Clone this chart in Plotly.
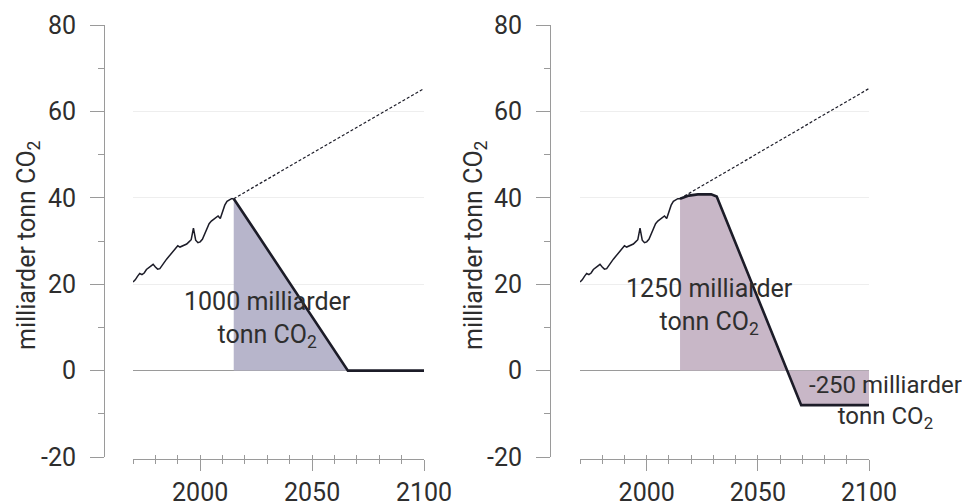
import plotly.graph_objects as go

# ---------------- data ----------------
hist_years = list(range(1970, 2016))
hist_values = [20.5, 21.0, 21.8, 22.5, 22.2, 22.6, 23.4, 23.8, 24.3, 24.6,
               24.0, 23.5, 23.6, 24.4, 25.2, 25.8, 26.4, 27.0, 27.8, 28.4,
               28.9, 28.6, 28.8, 29.0, 29.3, 29.8, 30.3, 33.0, 30.2, 29.6,
               29.8, 30.4, 31.6, 32.8, 34.0, 34.6, 35.0, 35.4, 35.8, 35.2,
               37.0, 38.3, 39.2, 39.6, 39.8, 39.8]

bau_years = [2015, 2100]
bau_values = [39.8, 65.3]

left_years = [2015, 2066, 2100]
left_values = [39.8, 0, 0]

right_years = [2015, 2019, 2023, 2029, 2031.5, 2069.5, 2100]
right_values = [39.8, 40.5, 40.8, 40.8, 40.3, -8, -8]

y_ticks = [-20, 0, 20, 40, 60, 80]
y_tick_labels = ["-20", "0", "20", "40", "60", "80"]
y_minor = [-10, 10, 30, 50, 70]
x_ticks = [2000, 2050, 2100]
x_minor = [1970, 1980, 1990, 2010, 2020, 2030, 2040, 2060, 2070, 2080, 2090]
x_all = list(range(1970, 2101, 10))

title_text = "milliarder tonn CO<sub>2</sub>"
left_label = "1000 milliarder<br>tonn CO<sub>2</sub>"
right_label = "1250 milliarder<br>tonn CO<sub>2</sub>"
neg_label = "-250 milliarder<br>tonn CO<sub>2</sub>"

# ---------------- style ----------------
W, H = 970, 503
OFF = 8  # page body margin in the browser
FONT = "Roboto"
TXT = "#2e2e2e"
AX = "#9a9a9a"
LINE = "#1c1c28"
FILL_L = "#b7b5cb"
FILL_R = "#c8b7c7"

def px_x(p):
    return (p - OFF) / W

def px_y(p):
    return 1 - (p - OFF) / H

fig = go.Figure()

for xa, fill, sy, sv in [("x", FILL_L, left_years, left_values),
                         ("x2", FILL_R, right_years, right_values)]:
    ya = "y" if xa == "x" else "y2"
    fig.add_trace(go.Scatter(x=sy, y=sv, mode="lines", fill="tozeroy",
                             fillcolor=fill, line=dict(color=LINE, width=2.6),
                             xaxis=xa, yaxis=ya, hoverinfo="skip"))
    fig.add_trace(go.Scatter(x=hist_years, y=hist_values, mode="lines",
                             line=dict(color=LINE, width=1.5),
                             xaxis=xa, yaxis=ya, hoverinfo="skip"))
    fig.add_trace(go.Scatter(x=bau_years, y=bau_values, mode="lines",
                             line=dict(color=LINE, width=1.2, dash="3px,2px"),
                             xaxis=xa, yaxis=ya, hoverinfo="skip"))

# empty traces for overlay tick axes
fig.add_trace(go.Scatter(x=[], y=[], xaxis="x3", yaxis="y", showlegend=False))
fig.add_trace(go.Scatter(x=[], y=[], xaxis="x4", yaxis="y2", showlegend=False))

ydom = [px_y(457), px_y(25)]
xpos = px_y(459)

def xaxis_main(dom):
    return dict(domain=dom, range=[1970, 2100], anchor="free", position=xpos,
                showline=True, linecolor=AX, linewidth=1,
                showgrid=False, zeroline=False,
                tickmode="array", tickvals=x_ticks, ticks="outside", ticklen=11,
                tickcolor=AX, tickwidth=1,
                minor=dict(tickmode="array", tickvals=x_minor, ticks="outside",
                           ticklen=4, tickcolor=AX, tickwidth=1),
                tickfont=dict(family=FONT, size=25, color=TXT),
                ticklabelstandoff=0, fixedrange=True, automargin=False)

def xaxis_over(dom, over):
    return dict(domain=dom, range=[1970, 2100], anchor="free", position=xpos,
                overlaying=over, showline=False, showgrid=False, zeroline=False,
                tickmode="array", tickvals=x_all, ticks="inside", ticklen=4,
                tickcolor=AX, tickwidth=1, showticklabels=False, fixedrange=True,
                automargin=False)

def yaxis_main(pos):
    return dict(domain=ydom, range=[-20, 80], anchor="free", position=pos,
                showline=True, linecolor=AX, linewidth=1,
                showgrid=True, gridcolor="#eeeeee", gridwidth=1,
                zeroline=True, zerolinecolor="#9a9a9a", zerolinewidth=1.2,
                tickmode="array", tickvals=y_ticks, ticktext=y_tick_labels,
                ticks="outside", ticklen=14, tickcolor=AX, tickwidth=1,
                minor=dict(tickmode="array", tickvals=y_minor, ticks="outside",
                           ticklen=6, tickcolor=AX, tickwidth=1, showgrid=False),
                tickfont=dict(family=FONT, size=25, color=TXT),
                ticklabelstandoff=9, fixedrange=True, automargin=False)

dl = [px_x(133), px_x(424)]
dr = [px_x(580), px_x(869)]

fig.update_layout(
    width=W, height=H,
    margin=dict(l=0, r=0, t=0, b=0, autoexpand=False),
    paper_bgcolor="white", plot_bgcolor="white",
    showlegend=False,
    font=dict(family=FONT, color=TXT),
    xaxis=xaxis_main(dl),
    xaxis2=xaxis_main(dr),
    xaxis3=xaxis_over(dl, "x"),
    xaxis4=xaxis_over(dr, "x2"),
    yaxis=yaxis_main(px_x(104)),
    yaxis2=yaxis_main(px_x(550)),
)

ann = []
for xc in [28, 475]:
    ann.append(dict(text=title_text, x=px_x(xc), y=px_y(245), xref="paper", yref="paper",
                    textangle=-90, showarrow=False, xanchor="center", yanchor="middle",
                    font=dict(family=FONT, size=25, color=TXT)))
ann.append(dict(text=left_label, x=2029.9, y=11.9, xref="x", yref="y", showarrow=False,
                xanchor="center", yanchor="middle",
                font=dict(family=FONT, size=25, color=TXT)))
ann.append(dict(text=right_label, x=2028.4, y=14.9, xref="x2", yref="y2", showarrow=False,
                xanchor="center", yanchor="middle",
                font=dict(family=FONT, size=25, color=TXT)))
ann.append(dict(text=neg_label, x=px_x(885), y=px_y(402), xref="paper", yref="paper",
                showarrow=False, xanchor="center", yanchor="middle",
                font=dict(family=FONT, size=24, color=TXT)))
fig.update_layout(annotations=ann)

fig.write_html("out.html")
